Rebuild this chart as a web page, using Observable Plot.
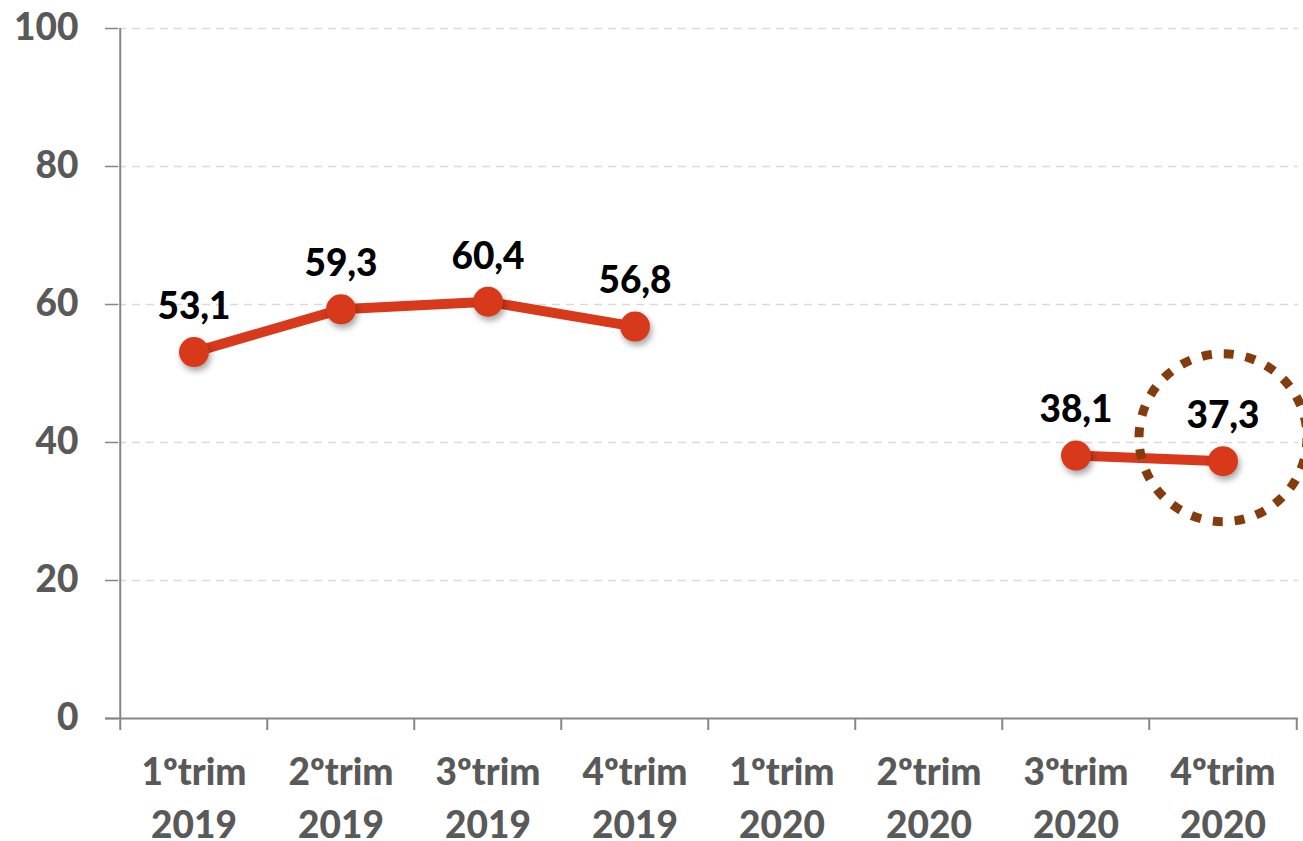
<!DOCTYPE html>
<html>
<head>
<meta charset="utf-8">
<script src="https://cdn.jsdelivr.net/npm/d3@7"></script>
<script src="https://cdn.jsdelivr.net/npm/@observablehq/plot@0.6"></script>
<style>
  html, body { margin: 0; padding: 0; background: #fff; }
  g[aria-label="dot"].pts circle { filter: drop-shadow(2px 4px 3px rgba(0,0,0,0.35)); }
</style>
</head>
<body>
<div id="chart"></div>
<script>
const categories = ["1ºtrim\n2019", "2ºtrim\n2019", "3ºtrim\n2019", "4ºtrim\n2019",
                    "1ºtrim\n2020", "2ºtrim\n2020", "3ºtrim\n2020", "4ºtrim\n2020"];
const values = [53.1, 59.3, 60.4, 56.8, null, null, 38.1, 37.3];
const yTicks = [0, 20, 40, 60, 80, 100];
const highlight = [{cat: "4ºtrim\n2020", y: 40.7}];

const data = categories.map((c, i) => ({cat: c, v: values[i]}));
const present = data.filter(d => d.v != null);

const W = 1303, H = 841, mL = 118, mR = 5, mT = 28, mB = 123;
const halfBand = (W - mL - mR) / categories.length / 2;
const plotH = H - mT - mB;
const red = "#d9391b";
const fs = 37;

const chart = Plot.plot({
  width: W, height: H,
  marginLeft: mL, marginRight: mR, marginTop: mT, marginBottom: mB,
  style: {fontFamily: "Lato, 'Open Sans', sans-serif", background: "#fff"},
  x: {type: "band", domain: categories, padding: 0, label: null},
  y: {domain: [0, 100], label: null},
  marks: [
    Plot.gridY(yTicks.filter(t => t > 0), {stroke: "#d9d9d9", strokeOpacity: 1, strokeWidth: 1.5, strokeDasharray: "8,6"}),
    Plot.axisY({ticks: yTicks, label: null, tickSize: 13, tickPadding: 27, fontSize: fs, fontWeight: 900, fill: "#595959", stroke: "#868686", strokeWidth: 1.5}),
    Plot.axisX({label: null, tickSize: 0, tickPadding: 29, fontSize: fs, fontWeight: 900, fill: "#595959", lineHeight: 1.43}),
    // axis lines
    Plot.ruleX([categories[0]], {x: d => d, dx: -halfBand, stroke: "#868686", strokeWidth: 2}),
    Plot.ruleY([0], {stroke: "#868686", strokeWidth: 2, insetLeft: -13}),
    // x tick marks at band boundaries
    Plot.ruleX(categories, {x: d => d, dx: -halfBand, stroke: "#868686", strokeWidth: 2, insetTop: plotH, insetBottom: -12}),
    Plot.ruleX([categories[categories.length - 1]], {x: d => d, dx: halfBand, stroke: "#868686", strokeWidth: 2, insetTop: plotH, insetBottom: -12}),
    // series
    Plot.line(data, {x: "cat", y: "v", stroke: red, strokeWidth: 10, curve: "linear"}),
    Plot.dot(present, {x: "cat", y: "v", r: 15, fill: red, stroke: "none", className: "pts"}),
    Plot.text(present, {x: "cat", y: "v", text: d => d.v.toFixed(1).replace(".", ","), dy: -45, fontSize: fs, fontWeight: 900, fill: "#000"}),
    // highlight circle
    Plot.dot(highlight, {x: "cat", y: "y", r: 84, fill: "none", stroke: "#843c0c", strokeWidth: 9, strokeDasharray: "10,12"})
  ]
});
document.getElementById("chart").appendChild(chart);
</script>
</body>
</html>
